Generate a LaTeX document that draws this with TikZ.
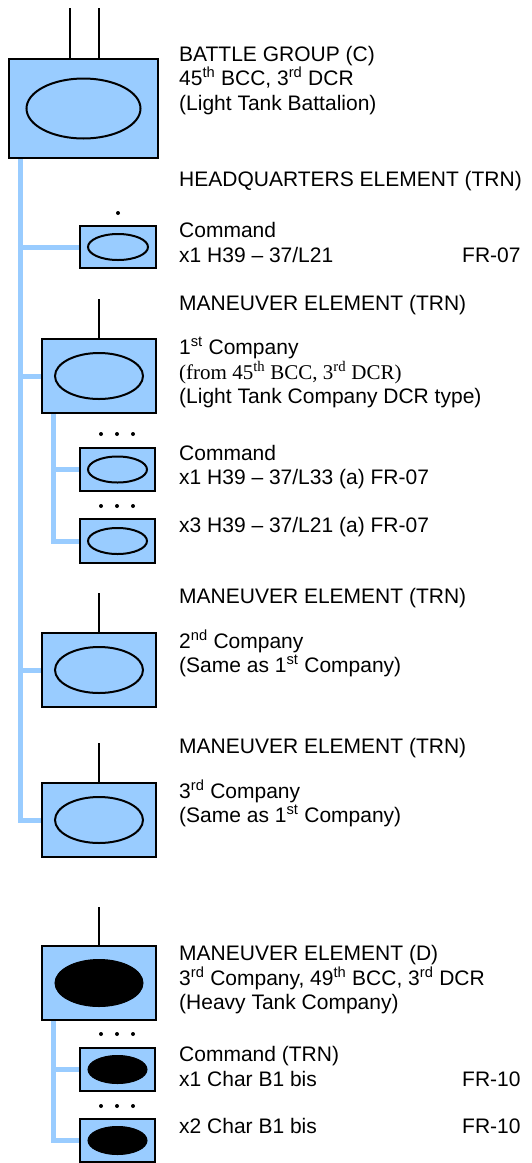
\documentclass[tikz,border=0pt]{standalone}
\usepackage{fontspec}
\setmainfont{Liberation Sans}
\newfontfamily\serifface{Liberation Serif}
\usetikzlibrary{shapes.geometric,backgrounds}
\definecolor{unitblue}{HTML}{99CCFF}
\begin{document}
\begin{tikzpicture}[x=1pt,y=-1pt,
  unitbox/.style={draw=black,line width=2pt,fill=unitblue,rectangle,inner sep=0pt},
  tankoval/.style={draw=black,line width=2pt,ellipse,inner sep=0pt},
  heavyoval/.style={draw=black,fill=black,line width=1pt,ellipse,inner sep=0pt},
  lbl/.style={anchor=base west,inner sep=0pt,font=\fontsize{21}{24}\selectfont},
  slbl/.style={anchor=base west,inner sep=0pt,font=\fontsize{21}{24}\selectfont\serifface},
  antenna/.style={draw=black,line width=2pt},
  link/.style={draw=unitblue,line width=5pt},
  dotmark/.style={circle,fill=black,inner sep=0pt,minimum size=4pt}]
\useasboundingbox (0,0) rectangle (532,1163);

% ---- Battle group
\node[unitbox,minimum width=149pt,minimum height=99pt] (bg) at (83.5,108.5) {};
\node[tankoval,minimum width=114pt,minimum height=60pt] (bgo) at (83.5,108.5) {};
\coordinate (bgt1) at (70,8);
\coordinate (bgt2) at (99,8);
\draw[antenna] (bgt1) -- (bgt1 |- bg.north);
\draw[antenna] (bgt2) -- (bgt2 |- bg.north);
\node[lbl] (t1) at (179,61) {BATTLE GROUP (C)};
\node[lbl] (t2) at (179,85.5) {45\textsuperscript{th} BCC, 3\textsuperscript{rd} DCR};
\node[lbl] (t3) at (179,110) {(Light Tank Battalion)};

% ---- HQ
\node[lbl] (t4) at (179,186.7) {HEADQUARTERS ELEMENT (TRN)};
\node[dotmark] (hqd) at (118,213) {};
\node[unitbox,minimum width=76pt,minimum height=42pt] (hq) at (118,247) {};
\node[tankoval,minimum width=60pt,minimum height=26pt] (hqo) at (118,247) {};
\node[lbl] (t5) at (179,237) {Command};
\node[lbl] (t6) at (179,262) {x1 H39 -- 37/L21};
\node[lbl] (t7) at (462,262) {FR-07};

% ---- 1st company
\node[lbl] (t8) at (179,310) {MANEUVER ELEMENT (TRN)};
\node[unitbox,minimum width=114pt,minimum height=74pt] (c1) at (99,376) {};
\node[tankoval,minimum width=88pt,minimum height=46pt] (c1o) at (99,376) {};
\coordinate (c1t) at (99,299);
\draw[antenna] (c1t) -- (c1.north);
\node[lbl] (t9) at (179,354.3) {1\textsuperscript{st} Company};
\node[slbl] (t10) at (179,379) {(from 45\textsuperscript{th} BCC, 3\textsuperscript{rd} DCR)};
\node[lbl] (t11) at (179,403.3) {(Light Tank Company DCR type)};

\node[dotmark] (c1d1) at (101,434) {};
\node[dotmark] (c1d2) at (117,434) {};
\node[dotmark] (c1d3) at (133,434) {};
\node[unitbox,minimum width=75pt,minimum height=43pt] (c1a) at (117.5,469.5) {};
\node[tankoval,minimum width=59pt,minimum height=26pt] (c1ao) at (117.5,469.5) {};
\node[lbl] (t12) at (179,460) {Command};
\node[lbl] (t13) at (179,484) {x1 H39 -- 37/L33 (a) FR-07};

\node[dotmark] (c1e1) at (101,506) {};
\node[dotmark] (c1e2) at (117,506) {};
\node[dotmark] (c1e3) at (133,506) {};
\node[unitbox,minimum width=75pt,minimum height=44pt] (c1b) at (117.5,541) {};
\node[tankoval,minimum width=59pt,minimum height=26pt] (c1bo) at (117.5,541) {};
\node[lbl] (t14) at (179,532.3) {x3 H39 -- 37/L21 (a) FR-07};

% ---- 2nd company
\node[lbl] (t15) at (179,603.3) {MANEUVER ELEMENT (TRN)};
\node[unitbox,minimum width=114pt,minimum height=74pt] (c2) at (99,670) {};
\node[tankoval,minimum width=88pt,minimum height=46pt] (c2o) at (99,670) {};
\coordinate (c2t) at (99,593);
\draw[antenna] (c2t) -- (c2.north);
\node[lbl] (t16) at (179,648.3) {2\textsuperscript{nd} Company};
\node[lbl] (t17) at (179,672.3) {(Same as 1\textsuperscript{st} Company)};

% ---- 3rd company
\node[lbl] (t18) at (179,753.3) {MANEUVER ELEMENT (TRN)};
\node[unitbox,minimum width=114pt,minimum height=74pt] (c3) at (99,820) {};
\node[tankoval,minimum width=88pt,minimum height=46pt] (c3o) at (99,820) {};
\coordinate (c3t) at (99,743);
\draw[antenna] (c3t) -- (c3.north);
\node[lbl] (t19) at (179,798.3) {3\textsuperscript{rd} Company};
\node[lbl] (t20) at (179,822.3) {(Same as 1\textsuperscript{st} Company)};

% ---- Heavy company (D)
\node[unitbox,minimum width=114pt,minimum height=74pt] (d) at (99,983) {};
\node[heavyoval,minimum width=88pt,minimum height=47pt] (do) at (99,983) {};
\coordinate (dt) at (99,907);
\draw[antenna] (dt) -- (d.north);
\node[lbl] (t21) at (179,960) {MANEUVER ELEMENT (D)};
\node[lbl] (t22) at (179,985) {3\textsuperscript{rd} Company, 49\textsuperscript{th} BCC, 3\textsuperscript{rd} DCR};
\node[lbl] (t23) at (179,1009) {(Heavy Tank Company)};

\node[dotmark] (dd1) at (101,1034) {};
\node[dotmark] (dd2) at (117,1034) {};
\node[dotmark] (dd3) at (133,1034) {};
\node[unitbox,minimum width=75pt,minimum height=43pt] (da) at (117.5,1069.5) {};
\node[heavyoval,minimum width=59pt,minimum height=28pt] (dao) at (117.5,1069.5) {};
\node[lbl] (t24) at (179,1061) {Command (TRN)};
\node[lbl] (t25) at (179,1086) {x1 Char B1 bis};
\node[lbl] (t26) at (462,1086) {FR-10};

\node[dotmark] (de1) at (101,1106) {};
\node[dotmark] (de2) at (117,1106) {};
\node[dotmark] (de3) at (133,1106) {};
\node[unitbox,minimum width=75pt,minimum height=43pt] (db) at (117.5,1140.5) {};
\node[heavyoval,minimum width=59pt,minimum height=28pt] (dbo) at (117.5,1140.5) {};
\node[lbl] (t27) at (179,1133.3) {x2 Char B1 bis};
\node[lbl] (t28) at (462,1133.3) {FR-10};

% ---- connectors (behind the boxes)
\begin{scope}[on background layer]
\coordinate (m0) at (20,159);
\draw[link] (m0) |- (c3.west);
\draw[link] (hq.west) -- (hq.west -| m0);
\draw[link] (c1.west) -- (c1.west -| m0);
\draw[link] (c2.west) -- (c2.west -| m0);
\coordinate (s1) at (53,414);
\draw[link] (s1) |- (c1b.west);
\draw[link] (c1a.west) -- (c1a.west -| s1);
\coordinate (s2) at (53,1021);
\draw[link] (s2) |- (db.west);
\draw[link] (da.west) -- (da.west -| s2);
\end{scope}
\end{tikzpicture}
\end{document}
